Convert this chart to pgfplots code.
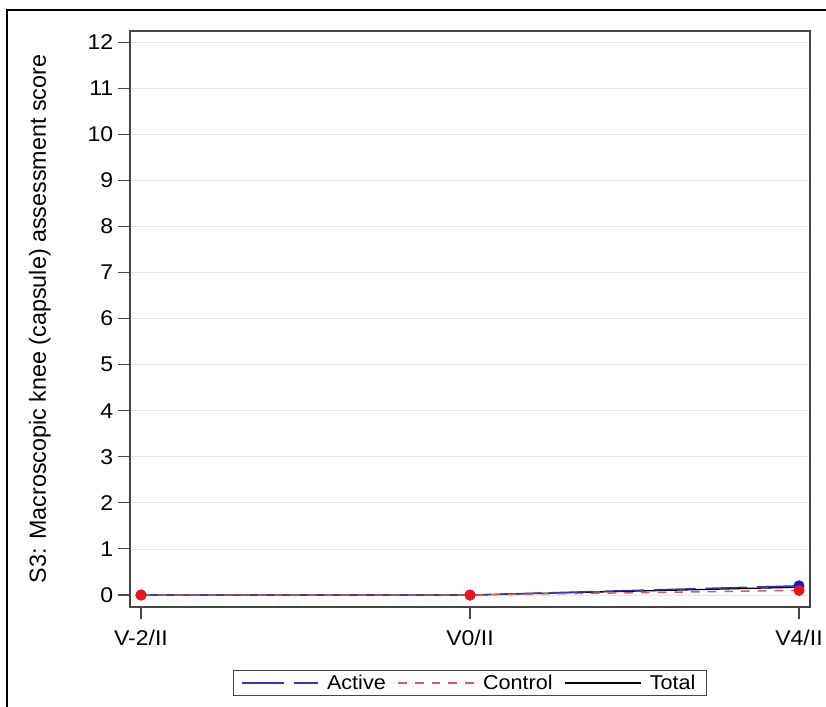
\documentclass[border=0pt]{standalone}
\usepackage{pgfplots}
\pgfplotsset{compat=1.18}
\usepackage{fontspec}
\setmainfont{Liberation Sans}[FakeStretch=1.08]
\newfontfamily\ylfont{Liberation Sans}
\definecolor{activeline}{RGB}{55,55,165}
\definecolor{controlline}{RGB}{210,95,95}
\definecolor{bluemark}{RGB}{25,25,200}
\definecolor{redmark}{RGB}{235,20,25}
\definecolor{axgray}{RGB}{70,70,70}
\definecolor{gridgray}{RGB}{232,232,232}
\begin{document}
\begin{tikzpicture}
\useasboundingbox (0pt,0pt) rectangle (619.5pt,530.25pt);
\draw[black,line width=0.8pt] (5.25pt,0pt) -- (5.25pt,522.75pt) -- (619.5pt,522.75pt);
\begin{axis}[
  at={(97.5pt,75pt)}, anchor=south west,
  scale only axis, width=510pt, height=432pt,
  xmin=-0.0334, xmax=2.0334,
  ymin=-0.26, ymax=12.24,
  xtick={0,1,2}, xticklabels={V-2/II,V0/II,V4/II},
  ytick={0,1,...,12},
  ymajorgrids, grid style={gridgray,line width=0.6pt},
  tick align=outside, major tick length=9pt,
  tick style={axgray,line width=0.8pt},
  axis line style={axgray,line width=0.8pt},
  xtick pos=bottom, ytick pos=left,
  /pgf/number format/assume math mode=true,
  ticklabel style={font=\fontsize{16}{19}\selectfont, text=black},
  ylabel={S3: Macroscopic knee (capsule) assessment score},
  ylabel style={font=\ylfont\fontsize{17.5}{20}\selectfont, at={(axis description cs:-0.1324,0.5)}, anchor=center},
  xticklabel style={yshift=-5pt},
  legend style={at={(0.5,-0.132)}, anchor=center, legend columns=3,
    draw=axgray, line width=0.8pt, font=\fontsize{15}{18}\selectfont,
    /tikz/every odd column/.append style={column sep=4pt},
    /tikz/every even column/.append style={column sep=7pt},
    inner xsep=6pt, inner ysep=1.5pt},
  legend cell align=left,
  legend image code/.code={\draw[#1] (0pt,0pt) -- (57pt,0pt);},
]
\addlegendimage{activeline, line width=0.9pt, dash pattern=on 31pt off 7.5pt}
\addlegendentry{Active}
\addlegendimage{controlline, line width=0.9pt, dash pattern=on 6.5pt off 6pt}
\addlegendentry{Control}
\addlegendimage{black, line width=0.9pt}
\addlegendentry{Total}
\addplot[black, line width=1pt, forget plot] coordinates {(0,0) (1,0) (2,0.17)};
\addplot[activeline, line width=1.1pt, dash pattern=on 31pt off 7.5pt, forget plot] coordinates {(0,0) (1,0) (2,0.2)};
\addplot[controlline, line width=1.1pt, dash pattern=on 6.5pt off 6pt, forget plot] coordinates {(0,0) (1,0) (2,0.1)};
\addplot[only marks, mark=*, mark size=3.9pt, mark options={fill=bluemark, draw=bluemark}, forget plot] coordinates {(0,0) (1,0) (2,0.2)};
\addplot[only marks, mark=*, mark size=3.9pt, mark options={fill=redmark, draw=redmark}, forget plot] coordinates {(0,0) (1,0) (2,0.1)};
\end{axis}
\end{tikzpicture}
\end{document}
